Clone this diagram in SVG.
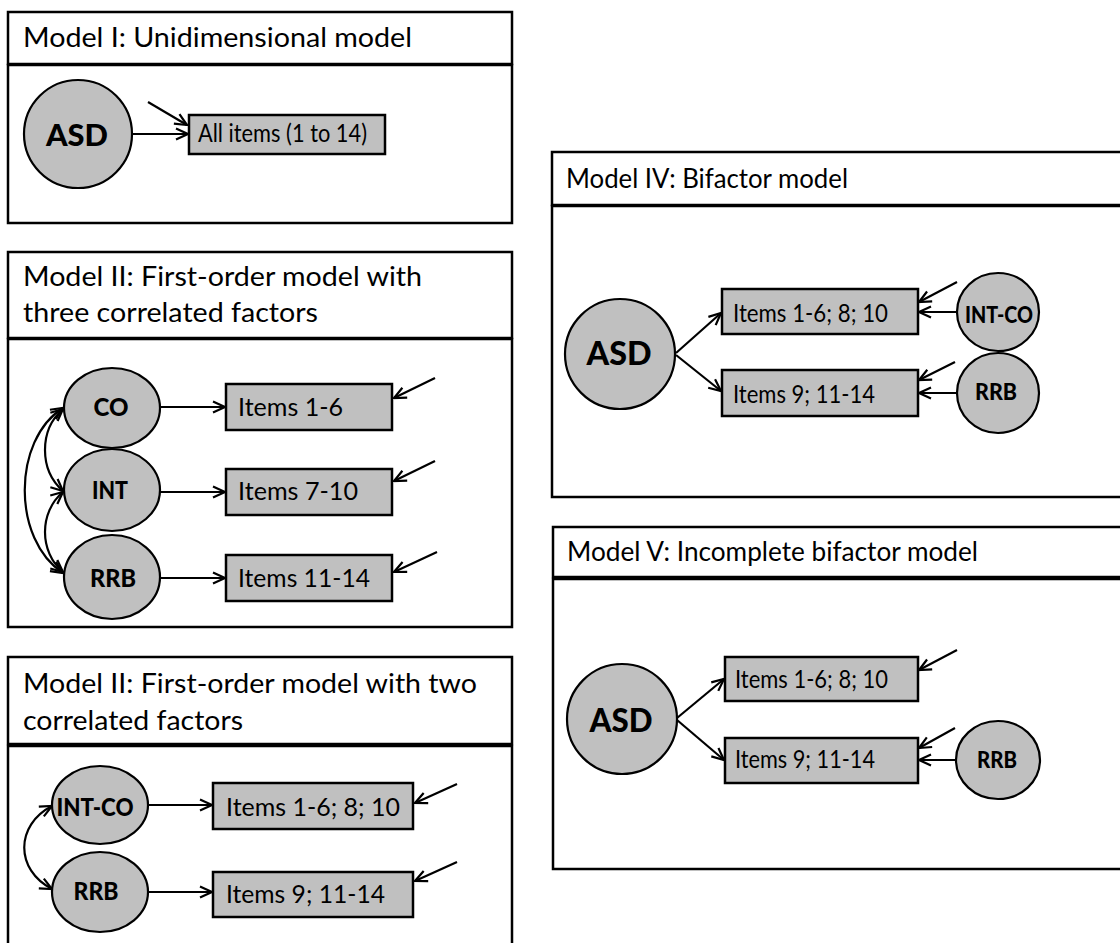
<svg xmlns="http://www.w3.org/2000/svg" width="1120" height="943" viewBox="0 0 1120 943">
<defs>
<marker id="ah" viewBox="0 0 14 14" refX="13" refY="7" markerWidth="14" markerHeight="14" markerUnits="userSpaceOnUse" orient="auto-start-reverse">
<path d="M1,1.5 L13,7 L1,12.5" fill="none" stroke="#000" stroke-width="2.2"/>
</marker>
<style>
.frame{fill:#fff;stroke:#000;stroke-width:2.5}
.box{fill:#c0c0c0;stroke:#000;stroke-width:2.5}
.lat{fill:#c0c0c0;stroke:#000;stroke-width:2.2}
.title{font-family:Lato,"Liberation Sans",sans-serif;font-size:26px;fill:#000}
.item{font-family:Lato,"Liberation Sans",sans-serif;font-size:25px;fill:#000}
.lbl{font-family:Lato,"Liberation Sans",sans-serif;font-weight:900;fill:#000;text-anchor:middle}
.arr{fill:none;stroke:#000;stroke-width:2.2;marker-end:url(#ah)}
.cov{fill:none;stroke:#000;stroke-width:2.2;marker-start:url(#ah);marker-end:url(#ah)}
</style>
</defs>
<rect width="1120" height="943" fill="#fff"/>

<!-- Model I -->
<g id="model1">
<rect class="frame" x="8" y="12" width="504" height="52"/>
<rect class="frame" x="8" y="65" width="504" height="158"/>
<text class="title" x="23" y="47" textLength="389" lengthAdjust="spacingAndGlyphs">Model I: Unidimensional model</text>
</g>
<g id="m1-asd"><circle class="lat" cx="78" cy="134" r="54"/><text class="lbl" x="77" y="146" font-size="31" textLength="62" lengthAdjust="spacingAndGlyphs">ASD</text></g>
<g id="m1-items"><rect class="box" x="189" y="115" width="196" height="39"/><text class="item" x="198" y="142" font-size="21" textLength="169" lengthAdjust="spacingAndGlyphs">All items (1 to 14)</text></g>

<!-- Model II (three factors) -->
<g id="model2">
<rect class="frame" x="8" y="252" width="504" height="86"/>
<rect class="frame" x="8" y="339" width="504" height="288"/>
<text class="title" x="23" y="286" textLength="399" lengthAdjust="spacingAndGlyphs">Model II: First-order model with</text>
<text class="title" x="23" y="322" textLength="295" lengthAdjust="spacingAndGlyphs">three correlated factors</text>
</g>
<g id="m2-co"><ellipse class="lat" cx="112" cy="408" rx="48" ry="40"/><text class="lbl" x="111" y="416" font-size="24" textLength="35" lengthAdjust="spacingAndGlyphs">CO</text></g>
<g id="m2-int"><ellipse class="lat" cx="112" cy="490" rx="48" ry="41"/><text class="lbl" x="110" y="499" font-size="24" textLength="36" lengthAdjust="spacingAndGlyphs">INT</text></g>
<g id="m2-rrb"><ellipse class="lat" cx="112" cy="577" rx="48" ry="42"/><text class="lbl" x="113" y="587" font-size="24" textLength="46" lengthAdjust="spacingAndGlyphs">RRB</text></g>
<g id="m2-i16"><rect class="box" x="226" y="384" width="166" height="46"/><text class="item" x="238" y="416" textLength="105" lengthAdjust="spacingAndGlyphs">Items 1-6</text></g>
<g id="m2-i710"><rect class="box" x="226" y="469" width="166" height="46"/><text class="item" x="238" y="500" textLength="120" lengthAdjust="spacingAndGlyphs">Items 7-10</text></g>
<g id="m2-i1114"><rect class="box" x="226" y="555" width="166" height="46"/><text class="item" x="238" y="587" textLength="132" lengthAdjust="spacingAndGlyphs">Items 11-14</text></g>

<!-- Model II (two factors) -->
<g id="model3">
<rect class="frame" x="8" y="657" width="504" height="87"/>
<rect class="frame" x="8" y="746" width="504" height="220"/>
<text class="title" x="23" y="693" textLength="454" lengthAdjust="spacingAndGlyphs">Model II: First-order model with two</text>
<text class="title" x="23" y="730" textLength="220" lengthAdjust="spacingAndGlyphs">correlated factors</text>
</g>
<g id="m3-intco"><ellipse class="lat" cx="100" cy="805" rx="48" ry="39"/><text class="lbl" x="95" y="816" font-size="24" textLength="77" lengthAdjust="spacingAndGlyphs">INT-CO</text></g>
<g id="m3-rrb"><ellipse class="lat" cx="100" cy="892" rx="48" ry="40"/><text class="lbl" x="96" y="900" font-size="24" textLength="45" lengthAdjust="spacingAndGlyphs">RRB</text></g>
<g id="m3-i1"><rect class="box" x="213" y="783" width="200" height="46"/><text class="item" x="226" y="816" textLength="174" lengthAdjust="spacingAndGlyphs">Items 1-6; 8; 10</text></g>
<g id="m3-i2"><rect class="box" x="213" y="872" width="200" height="45"/><text class="item" x="226" y="903" textLength="159" lengthAdjust="spacingAndGlyphs">Items 9; 11-14</text></g>

<!-- Model IV -->
<g id="model4">
<rect class="frame" x="552" y="152" width="580" height="53"/>
<rect class="frame" x="552" y="206" width="580" height="291"/>
<text class="title" x="566" y="188" textLength="282" lengthAdjust="spacingAndGlyphs">Model IV: Bifactor model</text>
</g>
<g id="m4-asd"><circle class="lat" cx="620" cy="354" r="55"/><text class="lbl" x="619" y="365" font-size="32" textLength="65" lengthAdjust="spacingAndGlyphs">ASD</text></g>
<g id="m4-i1"><rect class="box" x="722" y="289" width="196" height="45"/><text class="item" x="733" y="322" font-size="24" textLength="155" lengthAdjust="spacingAndGlyphs">Items 1-6; 8; 10</text></g>
<g id="m4-i2"><rect class="box" x="722" y="370" width="196" height="46"/><text class="item" x="733" y="403" font-size="24" textLength="142" lengthAdjust="spacingAndGlyphs">Items 9; 11-14</text></g>
<g id="m4-intco"><ellipse class="lat" cx="998" cy="312" rx="41" ry="39"/><text class="lbl" x="999" y="323" font-size="22" textLength="68" lengthAdjust="spacingAndGlyphs">INT-CO</text></g>
<g id="m4-rrb"><ellipse class="lat" cx="998" cy="393" rx="41" ry="40"/><text class="lbl" x="996" y="400" font-size="22" textLength="42" lengthAdjust="spacingAndGlyphs">RRB</text></g>

<!-- Model V -->
<g id="model5">
<rect class="frame" x="553" y="527" width="580" height="50"/>
<rect class="frame" x="553" y="579" width="580" height="290"/>
<text class="title" x="567" y="561" textLength="411" lengthAdjust="spacingAndGlyphs">Model V: Incomplete bifactor model</text>
</g>
<g id="m5-asd"><circle class="lat" cx="622" cy="719" r="55"/><text class="lbl" x="621" y="732" font-size="32" textLength="63" lengthAdjust="spacingAndGlyphs">ASD</text></g>
<g id="m5-i1"><rect class="box" x="725" y="657" width="193" height="44"/><text class="item" x="735" y="688" font-size="24" textLength="153" lengthAdjust="spacingAndGlyphs">Items 1-6; 8; 10</text></g>
<g id="m5-i2"><rect class="box" x="725" y="738" width="193" height="45"/><text class="item" x="735" y="768" font-size="24" textLength="140" lengthAdjust="spacingAndGlyphs">Items 9; 11-14</text></g>
<g id="m5-rrb"><ellipse class="lat" cx="998" cy="760" rx="42" ry="39"/><text class="lbl" x="997" y="768" font-size="22" textLength="40" lengthAdjust="spacingAndGlyphs">RRB</text></g>

<g id="connectors">
<!-- Model I -->
<line class="arr" x1="132" y1="134" x2="188" y2="134"/>
<line class="arr" x1="148" y1="102" x2="187" y2="125"/>
<!-- Model II three -->
<line class="arr" x1="160" y1="407" x2="225" y2="407"/>
<line class="arr" x1="160" y1="492" x2="225" y2="492"/>
<line class="arr" x1="160" y1="578" x2="225" y2="578"/>
<line class="arr" x1="435" y1="378" x2="394" y2="398"/>
<line class="arr" x1="435" y1="461" x2="394" y2="481"/>
<line class="arr" x1="437" y1="552" x2="394" y2="572"/>
<path class="cov" d="M63,408 C12,440 12,540 63,573"/>
<path class="cov" d="M63,409 C39,430 39,470 63,491"/>
<path class="cov" d="M63,492 C39,512 39,552 63,572"/>
<!-- Model II two -->
<line class="arr" x1="148" y1="805" x2="212" y2="805"/>
<line class="arr" x1="148" y1="892" x2="212" y2="892"/>
<line class="arr" x1="457" y1="784" x2="415" y2="803"/>
<line class="arr" x1="457" y1="862" x2="415" y2="881"/>
<path class="cov" d="M52,806 C15,825 15,870 52,889"/>
<!-- Model IV -->
<line class="arr" x1="676" y1="353" x2="721" y2="313"/>
<line class="arr" x1="676" y1="355" x2="721" y2="391"/>
<line class="arr" x1="957" y1="312" x2="919" y2="312"/>
<line class="arr" x1="957" y1="393" x2="919" y2="393"/>
<line class="arr" x1="957" y1="282" x2="919" y2="302"/>
<line class="arr" x1="955" y1="362" x2="919" y2="380"/>
<!-- Model V -->
<line class="arr" x1="677" y1="718" x2="724" y2="679"/>
<line class="arr" x1="677" y1="720" x2="724" y2="760"/>
<line class="arr" x1="956" y1="760" x2="919" y2="760"/>
<line class="arr" x1="957" y1="650" x2="919" y2="670"/>
<line class="arr" x1="955" y1="728" x2="919" y2="748"/>
</g>
</svg>
